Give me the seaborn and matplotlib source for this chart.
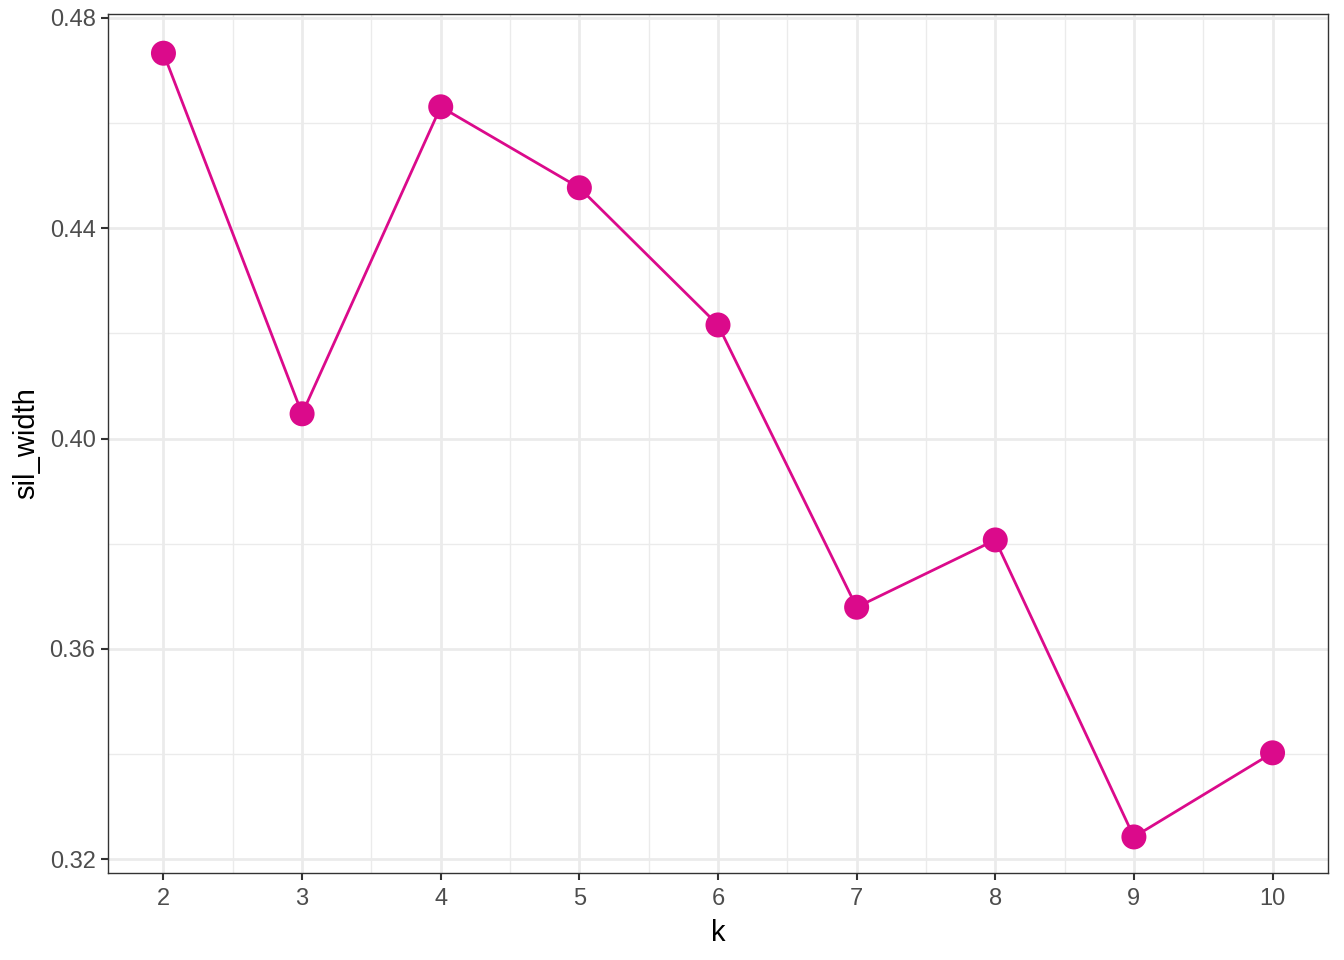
import matplotlib
matplotlib.use("Agg")
import matplotlib.pyplot as plt
import seaborn as sns
import pandas as pd
import numpy as np
from matplotlib.ticker import FixedLocator

k = [2, 3, 4, 5, 6, 7, 8, 9, 10]
sil_width = [0.4733, 0.4047, 0.4631, 0.4477, 0.4216, 0.3679, 0.3807, 0.3242, 0.3402]
y_ticks = [0.32, 0.36, 0.40, 0.44, 0.48]
y_tick_labels = ["0.32", "0.36", "0.40", "0.44", "0.48"]

df = pd.DataFrame({"k": k, "sil_width": sil_width})

sns.set_style("white")
plt.rcParams["font.family"] = ["Liberation Sans", "DejaVu Sans"]

color = "#DB0A8B"
fig = plt.figure(figsize=(13.44, 9.6), dpi=100)
ax = fig.add_axes([108/1344, 1-873/960, (1328-108)/1344, (873-14)/960])

sns.lineplot(data=df, x="k", y="sil_width", ax=ax, color=color, linewidth=2, zorder=3)
sns.scatterplot(data=df, x="k", y="sil_width", ax=ax, color=color, s=18**2, edgecolor="none", zorder=4, linewidth=0)

ax.set_xlim(1.6, 10.4)
ax.set_ylim(0.31734, 0.48076)
ax.xaxis.set_major_locator(FixedLocator(k))
ax.xaxis.set_minor_locator(FixedLocator([x + 0.5 for x in k[:-1]]))
ax.yaxis.set_major_locator(FixedLocator(y_ticks))
ax.set_yticklabels(y_tick_labels)
ax.yaxis.set_minor_locator(FixedLocator([0.34, 0.38, 0.42, 0.46]))

ax.grid(which="major", color="#EBEBEB", linewidth=2, zorder=0)
ax.grid(which="minor", color="#EBEBEB", linewidth=1, zorder=0)
ax.set_axisbelow(True)

for s in ax.spines.values():
    s.set_visible(True)
    s.set_color("#333333")
    s.set_linewidth(1)

ax.tick_params(which="major", axis="both", length=5, width=1.5, color="#333333",
               labelsize=17, labelcolor="#4D4D4D", pad=4, direction="out",
               bottom=True, left=True)
ax.tick_params(which="major", axis="x", pad=6)
ax.tick_params(which="minor", length=0)

ax.set_xlabel("k", fontsize=21, color="black", labelpad=6)
ax.set_ylabel("sil_width", fontsize=21, color="black", labelpad=7)

fig.savefig("out.png", dpi=100, facecolor="white")
